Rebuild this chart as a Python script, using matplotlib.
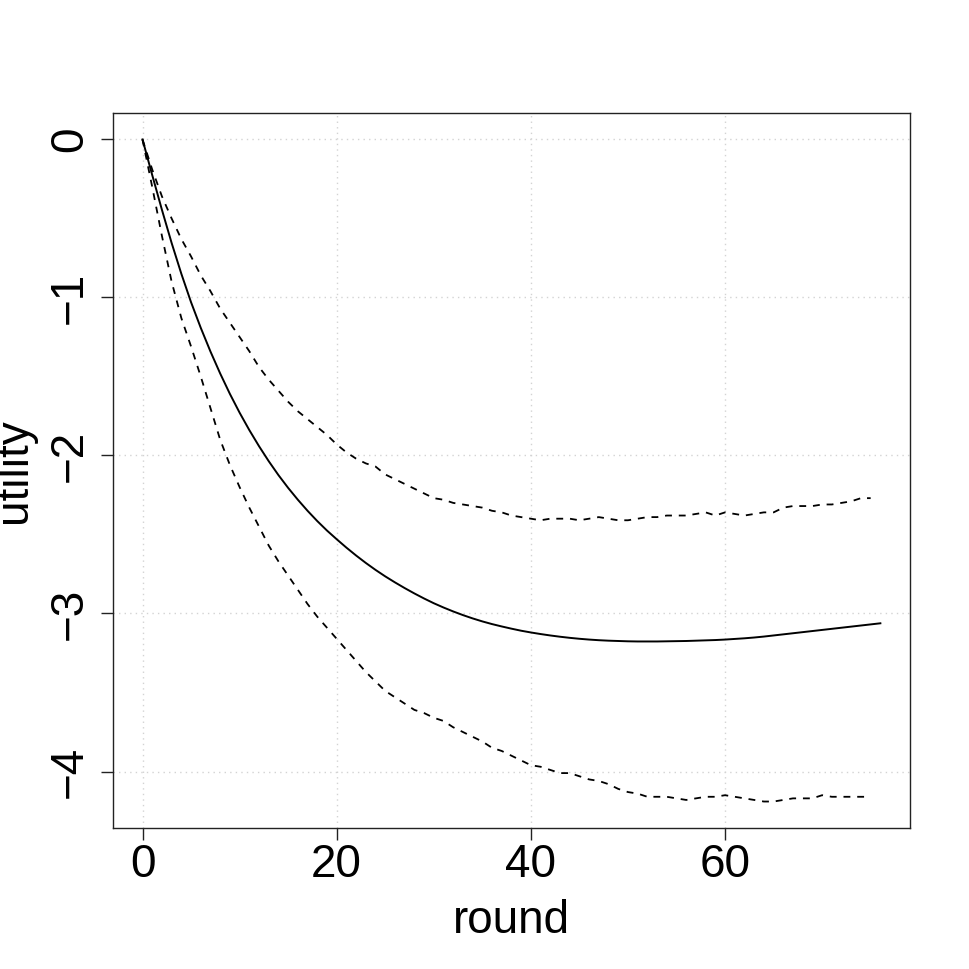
import matplotlib
matplotlib.use("Agg")
import matplotlib.pyplot as plt
import numpy as np

plt.rcParams['font.family'] = ['Liberation Sans', 'DejaVu Sans']

# mean utility per round (solid line), rounds 0..76
mean_utility = [
    0.0, -0.225, -0.445, -0.655, -0.85, -1.03, -1.192, -1.342, -1.481, -1.61,
    -1.729, -1.839, -1.941, -2.036, -2.124, -2.205, -2.28, -2.35, -2.415, -2.475,
    -2.53, -2.583, -2.633, -2.68, -2.724, -2.765, -2.803, -2.839, -2.873, -2.905,
    -2.935, -2.962, -2.987, -3.01, -3.031, -3.05, -3.067, -3.082, -3.096, -3.109,
    -3.12, -3.13, -3.139, -3.147, -3.154, -3.16, -3.165, -3.169, -3.172, -3.174,
    -3.176, -3.177, -3.177, -3.177, -3.176, -3.175, -3.174, -3.172, -3.17, -3.168,
    -3.165, -3.161, -3.157, -3.152, -3.146, -3.139, -3.132, -3.125, -3.118, -3.111,
    -3.104, -3.097, -3.09, -3.083, -3.076, -3.069, -3.062,
]

# upper band (dashed), rounds 0..75
upper = [
    0.0, -0.19, -0.36, -0.50, -0.63, -0.74, -0.86, -0.96, -1.07, -1.16,
    -1.25, -1.34, -1.44, -1.52, -1.59, -1.66, -1.72, -1.77, -1.82, -1.87,
    -1.93, -1.98, -2.02, -2.05, -2.07, -2.12, -2.15, -2.18, -2.21, -2.24,
    -2.27, -2.28, -2.30, -2.31, -2.32, -2.33, -2.35, -2.36, -2.38, -2.39,
    -2.40, -2.41, -2.40, -2.40, -2.40, -2.41, -2.40, -2.39, -2.40, -2.41,
    -2.41, -2.40, -2.39, -2.39, -2.38, -2.38, -2.38, -2.37, -2.36, -2.38,
    -2.36, -2.37, -2.38, -2.37, -2.36, -2.36, -2.33, -2.32, -2.32, -2.32,
    -2.31, -2.31, -2.30, -2.29, -2.27, -2.27,
]

# lower band (dashed), rounds 0..75
lower = [
    0.0, -0.30, -0.61, -0.90, -1.13, -1.31, -1.50, -1.70, -1.90, -2.06,
    -2.20, -2.33, -2.45, -2.57, -2.67, -2.76, -2.85, -2.94, -3.02, -3.09,
    -3.16, -3.23, -3.30, -3.37, -3.43, -3.49, -3.53, -3.57, -3.61, -3.63,
    -3.66, -3.68, -3.72, -3.75, -3.78, -3.81, -3.85, -3.87, -3.90, -3.93,
    -3.96, -3.97, -3.99, -4.01, -4.01, -4.03, -4.05, -4.06, -4.08, -4.11,
    -4.13, -4.14, -4.16, -4.16, -4.16, -4.17, -4.18, -4.17, -4.16, -4.16,
    -4.15, -4.16, -4.17, -4.18, -4.19, -4.19, -4.18, -4.17, -4.17, -4.17,
    -4.15, -4.16, -4.16, -4.16, -4.16, -4.16,
]

x_ticks = [0, 20, 40, 60]
y_ticks = [0, -1, -2, -3, -4]

rounds_mean = np.arange(len(mean_utility))
rounds_band = np.arange(len(upper))

fig = plt.figure(figsize=(9.69, 9.69), dpi=100)
ax = fig.add_axes([0.1166, 0.1455, 0.8224, 0.7379])

# R style dotted grid
for xt in x_ticks:
    ax.axvline(xt, color='#d3d3d3', lw=1.0, ls=(0, (1, 3)), zorder=0)
for yt in y_ticks:
    ax.axhline(yt, color='#d3d3d3', lw=1.0, ls=(0, (1, 3)), zorder=0)

ax.plot(rounds_mean, mean_utility, color='black', lw=1.4)
ax.plot(rounds_band, upper, color='black', lw=1.3, ls=(0, (3.8, 3.8)))
ax.plot(rounds_band, lower, color='black', lw=1.3, ls=(0, (3.8, 3.8)))

# R's 4% axis extension
xr = rounds_mean.max() - 0
ax.set_xlim(0 - 0.04 * xr, rounds_mean.max() + 0.04 * xr)
ymin = min(min(lower), min(upper), min(mean_utility))
ymax = 0.0
yr = ymax - ymin
ax.set_ylim(ymin - 0.04 * yr, ymax + 0.04 * yr)

ax.set_xticks(x_ticks)
ax.set_yticks(y_ticks)
ax.set_yticklabels(['0', '\u22121', '\u22122', '\u22123', '\u22124'])
ax.tick_params(axis='both', labelsize=33, length=8.6, width=1.0, color='#222222')
ax.tick_params(axis='x', pad=2.2)
ax.tick_params(axis='y', pad=6.5)
for lab in ax.get_yticklabels():
    lab.set_rotation(90)
    lab.set_va('center')

for sp in ax.spines.values():
    sp.set_linewidth(1.0)
    sp.set_color('#222222')

ax.set_xlabel('round', fontsize=33)
ax.set_ylabel('utility', fontsize=33)
ax.xaxis.set_label_coords(0.5, -0.099)
ax.yaxis.set_label_coords(-0.097, 0.5)

fig.savefig('out.png', dpi=100)
